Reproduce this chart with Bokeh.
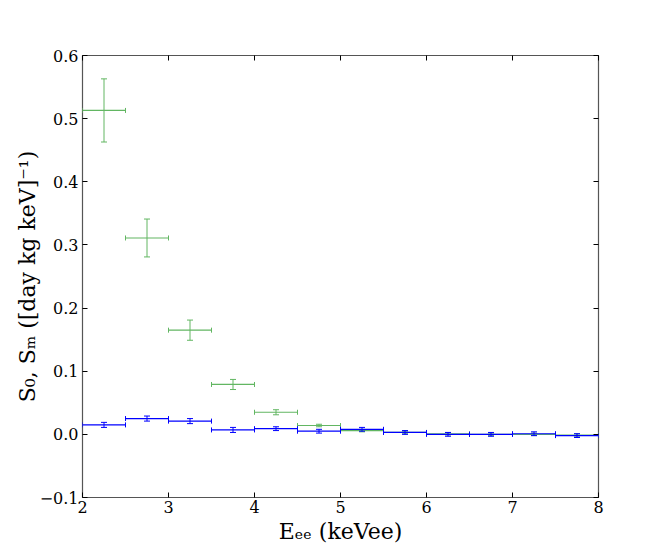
from bokeh.plotting import figure
from bokeh.models import (ColumnDataSource, Whisker, TeeHead, LinearAxis, FixedTicker,
                          CustomJSTickFormatter, Range1d)
from bokeh.embed import file_html
from bokeh.resources import INLINE

# Energy bins (keVee)
bin_lo = [2.0, 2.5, 3.0, 3.5, 4.0, 4.5, 5.0, 5.5, 6.0, 6.5, 7.0, 7.5]
bin_hi = [2.5, 3.0, 3.5, 4.0, 4.5, 5.0, 5.5, 6.0, 6.5, 7.0, 7.5, 8.0]
bin_center = [2.25, 2.75, 3.25, 3.75, 4.25, 4.75, 5.25, 5.75, 6.25, 6.75, 7.25, 7.75]

# S0 (unmodulated rate)
s0 = [0.513, 0.311, 0.165, 0.079, 0.035, 0.014, 0.006, 0.003, 0.001, 0.000, 0.000, -0.001]
s0_err = [0.050, 0.030, 0.016, 0.008, 0.004, 0.002, 0.002, 0.002, 0.002, 0.002, 0.002, 0.002]

# Sm (modulation amplitude)
sm = [0.015, 0.025, 0.021, 0.007, 0.009, 0.005, 0.008, 0.003, 0.000, 0.000, 0.001, -0.002]
sm_err = [0.004, 0.004, 0.004, 0.004, 0.003, 0.003, 0.003, 0.003, 0.003, 0.003, 0.003, 0.003]

x_ticks = [2, 3, 4, 5, 6, 7, 8]
y_ticks = [-0.1, 0.0, 0.1, 0.2, 0.3, 0.4, 0.5, 0.6]

x_label = "E\u2091\u2091 (keVee)"
y_label = "S\u2080, S\u2098 ([day kg keV]\u207b\u00b9)"

GREEN = "#62b662"
BLUE = "#0000ff"
FONT = "DejaVu Serif"

p = figure(output_backend="svg", toolbar_location=None,
           frame_width=516, frame_height=442,
           x_range=Range1d(2, 8), y_range=Range1d(-0.1, 0.6),
           min_border_left=82, min_border_right=50, min_border_top=55, min_border_bottom=40)
p.xgrid.visible = False
p.ygrid.visible = False
p.outline_line_color = "#555555"
p.outline_line_width = 1.2
p.background_fill_color = "white"
p.border_fill_color = "white"


def add_series(y, err, color):
    src = ColumnDataSource(dict(
        x=bin_center, xl=bin_lo, xr=bin_hi, y=y,
        yl=[a - b for a, b in zip(y, err)], yu=[a + b for a, b in zip(y, err)]))
    p.add_layout(Whisker(source=src, base="x", lower="yl", upper="yu", dimension="height",
                         line_color=color, line_width=1,
                         upper_head=TeeHead(size=6, line_color=color, line_width=1),
                         lower_head=TeeHead(size=6, line_color=color, line_width=1)))
    p.add_layout(Whisker(source=src, base="y", lower="xl", upper="xr", dimension="width",
                         line_color=color, line_width=1.2,
                         upper_head=TeeHead(size=5, line_color=color, line_width=1),
                         lower_head=TeeHead(size=5, line_color=color, line_width=1)))


add_series(s0, s0_err, GREEN)
add_series(sm, sm_err, BLUE)

fmt = CustomJSTickFormatter(code="return (tick < -1e-9 ? '\u2212' : '') + Math.abs(tick).toFixed(1);")

for ax in p.xaxis:
    ax.ticker = FixedTicker(ticks=x_ticks)
for ax in p.yaxis:
    ax.ticker = FixedTicker(ticks=y_ticks)
    ax.formatter = fmt

p.xaxis.axis_label = x_label
p.yaxis.axis_label = y_label

for ax in p.xaxis + p.yaxis:
    ax.axis_line_color = None
    ax.major_tick_in = 5
    ax.major_tick_out = 0
    ax.minor_tick_line_color = None
    ax.major_tick_line_color = "black"
    ax.major_label_text_font = FONT
    ax.major_label_text_font_size = "16px"
    ax.major_label_text_color = "black"
    ax.axis_label_text_font = FONT
    ax.axis_label_text_font_size = "22px"
    ax.axis_label_text_font_style = "normal"
    ax.axis_label_text_color = "black"
p.xaxis.major_label_standoff = 3
p.yaxis.major_label_standoff = 4
p.xaxis.axis_label_standoff = 3
p.yaxis.axis_label_standoff = -3

# mirrored ticks on top and right (no labels)
blank = CustomJSTickFormatter(code="return '';")
top = LinearAxis(ticker=FixedTicker(ticks=x_ticks), formatter=blank,
                 axis_line_color=None, major_tick_in=5, major_tick_out=0,
                 minor_tick_line_color=None, major_label_standoff=0)
right = LinearAxis(ticker=FixedTicker(ticks=y_ticks), formatter=blank,
                   axis_line_color=None, major_tick_in=5, major_tick_out=0,
                   minor_tick_line_color=None, major_label_standoff=0)
p.add_layout(top, "above")
p.add_layout(right, "right")

open("out.html", "w").write(file_html(p, INLINE))
